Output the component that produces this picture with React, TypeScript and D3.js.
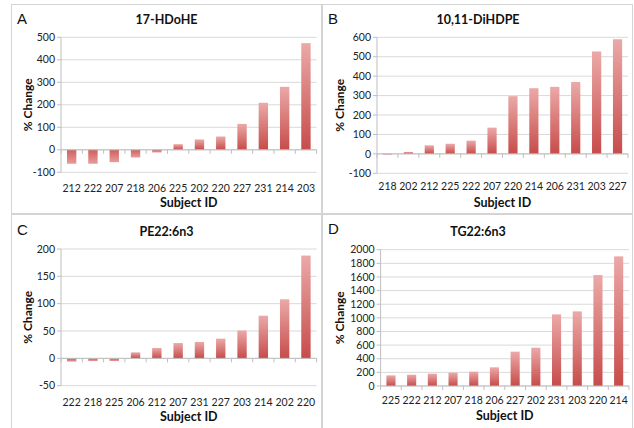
import React from "react";
import * as d3 from "d3";

const W = 634;
const H = 428;

// Panel A
const subjA = ["212", "222", "207", "218", "206", "225", "202", "220", "227", "231", "214", "203"];
const valA = [-62, -62, -55, -34, -12, 25, 46, 59, 115, 209, 280, 474];
const ticksA = [-100, 0, 100, 200, 300, 400, 500];

// Panel B
const subjB = ["218", "202", "212", "225", "222", "207", "220", "214", "206", "231", "203", "227"];
const valB = [-4, 10, 44, 52, 68, 135, 297, 338, 345, 370, 527, 590];
const ticksB = [-100, 0, 100, 200, 300, 400, 500, 600];

// Panel C
const subjC = ["222", "218", "225", "206", "212", "207", "231", "227", "203", "214", "202", "220"];
const valC = [-6, -5, -5, 11, 19, 28, 30, 36, 51, 78, 108, 188];
const ticksC = [-50, 0, 50, 100, 150, 200];

// Panel D
const subjD = ["225", "222", "212", "207", "218", "206", "227", "202", "231", "203", "220", "214"];
const valD = [156, 166, 181, 196, 210, 274, 504, 562, 1051, 1095, 1628, 1902];
const ticksD = [0, 200, 400, 600, 800, 1000, 1200, 1400, 1600, 1800, 2000];

const titles = ["17-HDoHE", "10,11-DiHDPE", "PE22:6n3", "TG22:6n3"];
const letters = ["A", "B", "C", "D"];

type Layout = {
  bx: number; by: number; bw: number; bh: number;
  px0: number; px1: number; py0: number; py1: number;
  letterX: number; letterY: number;
  titleX: number; titleY: number;
  xlabY: number; xtitleY: number;
  ytitleX: number;
};

const layouts: Layout[] = [
  { bx: 11.5, by: 4.5, bw: 310, bh: 209, px0: 61, px1: 316.6, py0: 37.3, py1: 172.3, letterX: 17, letterY: 24, titleX: 166.5, titleY: 23.5, xlabY: 191.5, xtitleY: 206.5, ytitleX: 28 },
  { bx: 322.5, by: 4.5, bw: 310, bh: 209, px0: 377, px1: 628, py0: 37.3, py1: 173.3, letterX: 328, letterY: 23.5, titleX: 478, titleY: 23.5, xlabY: 189.5, xtitleY: 206.5, ytitleX: 340 },
  { bx: 11.5, by: 214.5, bw: 310, bh: 220, px0: 61, px1: 316.6, py0: 249, py1: 385.7, letterX: 17, letterY: 234.5, titleX: 166.5, titleY: 235.5, xlabY: 405.5, xtitleY: 420.5, ytitleX: 28 },
  { bx: 322.5, by: 214.5, bw: 310, bh: 220, px0: 380.6, px1: 629, py0: 249.7, py1: 386, letterX: 328, letterY: 234, titleX: 478, titleY: 235.5, xlabY: 403.5, xtitleY: 420, ytitleX: 340 },
];

const panelData = [
  { cats: subjA, vals: valA, ticks: ticksA },
  { cats: subjB, vals: valB, ticks: ticksB },
  { cats: subjC, vals: valC, ticks: ticksC },
  { cats: subjD, vals: valD, ticks: ticksD },
];

const FONT = "Lato, 'Open Sans', sans-serif";

function Panel({ idx }: { idx: number }) {
  const L = layouts[idx];
  const { cats, vals, ticks } = panelData[idx];
  const x = d3.scaleBand<string>().domain(cats).range([L.px0, L.px1]).paddingInner(0.56).paddingOuter(0.28);
  const y = d3.scaleLinear().domain([ticks[0], ticks[ticks.length - 1]]).range([L.py1, L.py0]);
  const y0 = y(0);
  const step = x.step();
  const boundaries = d3.range(cats.length + 1).map((i) => L.px0 + i * step);
  return (
    <g>
      <rect x={L.bx} y={L.by} width={L.bw} height={L.bh} fill="#fff" stroke="#d4d4d4" strokeWidth={1} />
      <text x={L.letterX} y={L.letterY} fontFamily="'Liberation Sans', Arial, sans-serif" fontSize={15} fill="#111">{letters[idx]}</text>
      <text x={L.titleX} y={L.titleY} textAnchor="middle" fontFamily={FONT} fontWeight="bold" fontSize={12.5} fill="#111">{titles[idx]}</text>
      {ticks.map((t) => (
        <g key={t}>
          <line x1={L.px0} x2={L.px1} y1={y(t)} y2={y(t)} stroke="#d9d9d9" strokeWidth={1} />
          <line x1={L.px0 - 4} x2={L.px0} y1={y(t)} y2={y(t)} stroke="#bfbfbf" strokeWidth={1} />
          <text x={L.px0 - 6} y={y(t)} dy="0.35em" textAnchor="end" fontFamily={FONT} fontSize={10.5} fill="#222">{t}</text>
        </g>
      ))}
      <line x1={L.px0} x2={L.px0} y1={L.py0} y2={L.py1} stroke="#bfbfbf" strokeWidth={1} />
      {cats.map((c, i) => {
        const v = vals[i];
        const top = Math.min(y(v), y0);
        const h = Math.abs(y(v) - y0);
        return (
          <rect key={c} x={x(c)} y={top} width={x.bandwidth()} height={h} fill={v >= 0 ? "url(#gradPos)" : "url(#gradNeg)"} />
        );
      })}
      <line x1={L.px0} x2={L.px1} y1={y0} y2={y0} stroke="#bfbfbf" strokeWidth={1} />
      {boundaries.map((b, i) => (
        <line key={i} x1={b} x2={b} y1={y0} y2={y0 + 4} stroke="#bfbfbf" strokeWidth={1} />
      ))}
      {cats.map((c) => (
        <text key={c} x={(x(c) as number) + x.bandwidth() / 2} y={L.xlabY} textAnchor="middle" fontFamily={FONT} fontSize={10.5} fill="#222">{c}</text>
      ))}
      <text x={(L.px0 + L.px1) / 2} y={L.xtitleY} textAnchor="middle" fontFamily={FONT} fontWeight="bold" fontSize={12.5} fill="#111">Subject ID</text>
      <text transform={`translate(${L.ytitleX},${(L.py0 + L.py1) / 2}) rotate(-90)`} textAnchor="middle" dy="0.35em" fontFamily={FONT} fontWeight="bold" fontSize={12} fill="#111">% Change</text>
    </g>
  );
}

export default function App() {
  return (
    <svg width={W} height={H} style={{ position: "absolute", left: 0, top: 0, background: "#fff" }}>
      <defs>
        <linearGradient id="gradPos" x1="0" y1="0" x2="0" y2="1">
          <stop offset="0" stopColor="#eba9a8" />
          <stop offset="1" stopColor="#c64c4a" />
        </linearGradient>
        <linearGradient id="gradNeg" x1="0" y1="0" x2="0" y2="1">
          <stop offset="0" stopColor="#cf5f5d" />
          <stop offset="1" stopColor="#e79c9b" />
        </linearGradient>
      </defs>
      <rect x={0} y={0} width={W} height={H} fill="#fff" />
      {[0, 1, 2, 3].map((i) => (
        <Panel key={i} idx={i} />
      ))}
    </svg>
  );
}
